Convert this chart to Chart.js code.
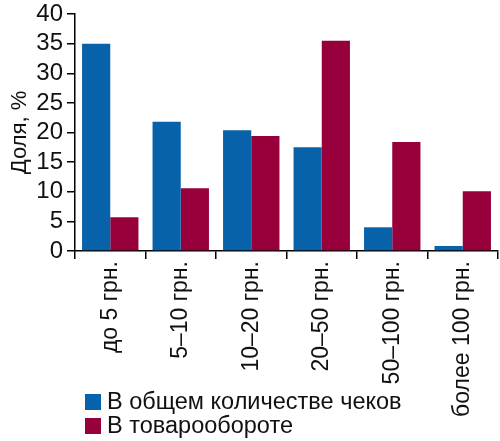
<!DOCTYPE html>
<html>
<head>
<meta charset="utf-8">
<script src="https://cdn.jsdelivr.net/npm/chart.js@4"></script>
<style>
  html,body{margin:0;padding:0;background:#fff;}
  #wrap{width:500px;height:441px;}
</style>
</head>
<body>
<div id="wrap"><canvas id="myChart" width="500" height="441"></canvas></div>
<script>
// categories (price ranges of a receipt)
const labels=["до 5 грн.","5–10 грн.","10–20 грн.","20–50 грн.","50–100 грн.","более 100 грн."];
// share of receipts, %
const checksShare=[35,21.8,20.4,17.5,4.0,0.85];
// share of turnover, %
const turnoverShare=[5.7,10.6,19.4,35.5,18.4,10.1];
// y ticks
const yTicks=[0,5,10,15,20,25,30,35,40];

const FONT="'Liberation Sans', Arial, sans-serif";

// legend drawn by hand so it can sit beside the long rotated label
const leftLegend={
  id:"leftLegend",
  afterDraw(chart){
    const c=chart.ctx;
    c.save();
    c.font="23.5px "+FONT;
    c.textBaseline="middle";
    chart.data.datasets.forEach((ds,i)=>{
      const y=402+i*24;
      c.fillStyle=ds.backgroundColor;
      c.fillRect(85,y-8,16,16);
      c.fillStyle="#111";
      c.fillText(ds.label,107,y+1);
    });
    c.restore();
  }
};

const data={
  labels,
  datasets:[
    {label:"В общем количестве чеков",data:checksShare,backgroundColor:"#0862AA"},
    {label:"В товарообороте",data:turnoverShare,backgroundColor:"#98003C"}
  ]
};

const config={
  type:"bar",
  data:data,
  options:{
    responsive:false,
    animation:false,
    layout:{padding:{top:0,right:2,left:0,bottom:0}},
    datasets:{bar:{categoryPercentage:0.8,barPercentage:1.0}},
    plugins:{legend:{display:false},tooltip:{enabled:false}},
    scales:{
      x:{
        afterFit:(s)=>{s.height=190;},
        border:{color:"#000",width:1.5},
        grid:{drawOnChartArea:false,drawTicks:true,tickLength:8,color:"#000",lineWidth:1.5},
        ticks:{minRotation:90,maxRotation:90,autoSkip:false,color:"#111",font:{family:FONT,size:23},padding:2}
      },
      y:{
        min:0,max:40,
        afterFit:(s)=>{s.width=75;s.paddingTop=14;},
        afterBuildTicks:(s)=>{s.ticks=yTicks.map(v=>({value:v}));},
        border:{color:"#000",width:1.5},
        grid:{drawOnChartArea:false,drawTicks:true,tickLength:8,color:"#000",lineWidth:1.5},
        ticks:{autoSkip:false,color:"#111",font:{family:FONT,size:24,lineHeight:1},padding:4},
        title:{display:true,text:"Доля, %",color:"#111",font:{family:FONT,size:22},padding:{top:7,bottom:0}}
      }
    }
  },
  plugins:[leftLegend]
};

const myChart=new Chart(document.getElementById("myChart").getContext("2d"),config);
</script>
</body>
</html>
